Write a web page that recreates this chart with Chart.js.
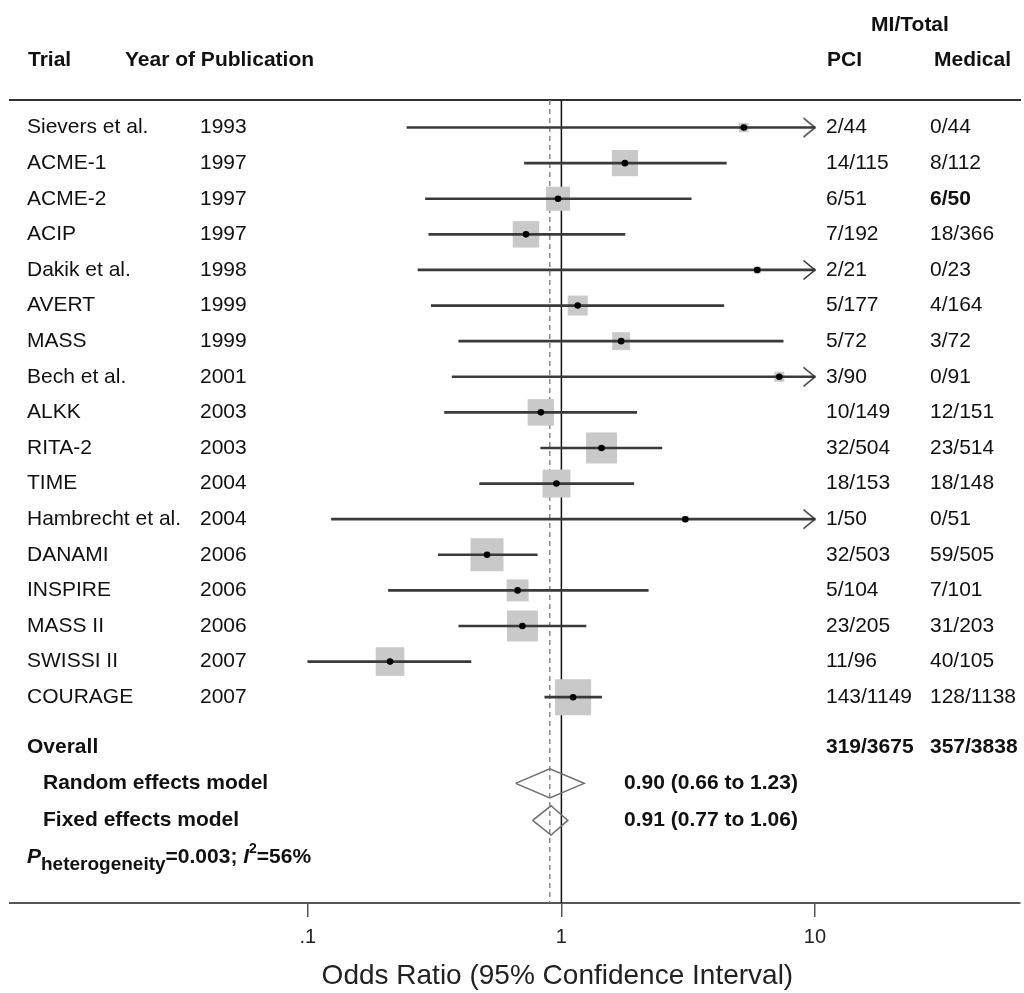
<!DOCTYPE html>
<html><head><meta charset="utf-8">
<script src="https://cdn.jsdelivr.net/npm/chart.js@4.4.0/dist/chart.umd.min.js"></script>
<style>html,body{margin:0;padding:0;background:#fff;}canvas{display:block;}</style>
</head><body>
<canvas id="c" width="1024" height="993"></canvas>
<script>
// ---------- data ----------
const trials = ['Sievers et al.','ACME-1','ACME-2','ACIP','Dakik et al.','AVERT','MASS','Bech et al.','ALKK','RITA-2','TIME','Hambrecht et al.','DANAMI','INSPIRE','MASS II','SWISSI II','COURAGE'];
const years = ['1993','1997','1997','1997','1998','1999','1999','2001','2003','2003','2004','2004','2006','2006','2006','2007','2007'];
const pciEvents = ['2/44','14/115','6/51','7/192','2/21','5/177','5/72','3/90','10/149','32/504','18/153','1/50','32/503','5/104','23/205','11/96','143/1149'];
const medicalEvents = ['0/44','8/112','6/50','18/366','0/23','4/164','3/72','0/91','12/151','23/514','18/148','0/51','59/505','7/101','31/203','40/105','128/1138'];
const oddsRatio = [5.24,1.78,0.97,0.725,5.92,1.16,1.72,7.23,0.83,1.44,0.956,3.08,0.509,0.672,0.702,0.211,1.112];
const ciLow = [0.246,0.715,0.291,0.300,0.272,0.307,0.394,0.371,0.346,0.829,0.476,0.124,0.327,0.208,0.394,0.100,0.860];
const ciHigh = [null,4.47,3.25,1.78,null,4.37,7.49,null,1.98,2.49,1.93,null,0.803,2.20,1.25,0.44,1.44]; // null = beyond axis (arrow)
const weights = [0.9,6.8,5.8,7.0,0.5,4.0,3.2,1.0,7.0,9.6,7.8,0.4,10.9,4.8,9.6,8.2,13.0];
const summaryLabels = ['Random effects model','Fixed effects model'];
const summaryOR = [0.90, 0.91];
const summaryLow = [0.66, 0.77];
const summaryHigh = [1.23, 1.06];
const summaryText = ['0.90 (0.66 to 1.23)','0.91 (0.77 to 1.06)'];
const overallPCI = '319/3675';
const overallMedical = '357/3838';
const heterogeneityP = '0.003';
const heterogeneityI2 = '56%';
const tickValues = [0.1, 1, 10];
const tickLabels = ['.1','1','10'];
const axisClip = 10;

// ---------- layout ----------
const FONT = "'Liberation Sans', Arial, Helvetica, sans-serif";
const rowPos = trials.map((t, i) => i + 1);
const overallRow = 18.41, summaryRows = [19.42, 20.46], hetRow = 21.5;
const Y_MIN = 0.227, Y_MAX = 22.78;
const X_MIN = Math.pow(10, -2.1743), X_MAX = Math.pow(10, 1.8084);
const DIAMOND_HALF = 0.41;
const BOX_SCALE = 10 / Math.SQRT2;

function makeArrow() {
  const c = document.createElement('canvas');
  c.width = 30; c.height = 24;
  const g = c.getContext('2d');
  g.strokeStyle = '#333'; g.lineWidth = 1.6;
  g.beginPath(); g.moveTo(15 - 11.5, 12 - 9.5); g.lineTo(15, 12); g.lineTo(15 - 11.5, 12 + 9.5); g.stroke();
  return c;
}
const arrowImg = makeArrow();

function txt(ctx, s, x, y, o = {}) {
  const size = o.size || 21, weight = o.weight || 'normal', style = o.style || 'normal';
  ctx.font = `${style} ${weight} ${size}px ${FONT}`;
  ctx.textAlign = o.align || 'left';
  ctx.textBaseline = 'middle';
  ctx.fillStyle = o.color || '#111';
  ctx.fillText(s, x, y);
  return ctx.measureText(s).width;
}

const textPlugin = {
  id: 'forestText',
  afterDraw(chart) {
    const ctx = chart.ctx, ys = chart.scales.y, xs = chart.scales.x;
    ctx.save();
    // headers
    txt(ctx, 'Trial', 28, 60, {weight: 'bold'});
    txt(ctx, 'Year of Publication', 125, 60, {weight: 'bold'});
    txt(ctx, 'MI/Total', 910, 25, {weight: 'bold', align: 'center'});
    txt(ctx, 'PCI', 827, 60, {weight: 'bold'});
    txt(ctx, 'Medical', 934, 60, {weight: 'bold'});
    // rows
    trials.forEach((t, i) => {
      const py = ys.getPixelForValue(rowPos[i]);
      txt(ctx, t, 27, py);
      txt(ctx, years[i], 200, py);
      txt(ctx, pciEvents[i], 826, py);
      txt(ctx, medicalEvents[i], 930, py, {weight: i === 2 ? 'bold' : 'normal'});
    });
    // overall
    const po = ys.getPixelForValue(overallRow);
    txt(ctx, 'Overall', 27, po, {weight: 'bold'});
    txt(ctx, overallPCI, 826, po, {weight: 'bold'});
    txt(ctx, overallMedical, 930, po, {weight: 'bold'});
    summaryLabels.forEach((s, j) => {
      const py = ys.getPixelForValue(summaryRows[j]);
      txt(ctx, s, 43, py, {weight: 'bold'});
      txt(ctx, summaryText[j], 624, py, {weight: 'bold'});
    });
    // heterogeneity
    const ph = ys.getPixelForValue(hetRow);
    let x = 27;
    x += txt(ctx, 'P', x, ph, {weight: 'bold', style: 'italic'});
    x += txt(ctx, 'heterogeneity', x, ph + 7, {weight: 'bold', size: 19});
    x += txt(ctx, '=' + heterogeneityP + '; ', x, ph, {weight: 'bold'});
    x += txt(ctx, 'I', x, ph, {weight: 'bold', style: 'italic'});
    x += txt(ctx, '2', x, ph - 8, {weight: 'bold', size: 14});
    txt(ctx, '=' + heterogeneityI2, x, ph, {weight: 'bold'});
    // axis title
    txt(ctx, 'Odds Ratio (95% Confidence Interval)', xs.getPixelForValue(1) - 4, 976, {size: 28, align: 'center', color: '#222'});
    ctx.restore();
  }
};

const ciData = trials.map((t, i) => ({x: [ciLow[i], ciHigh[i] === null ? axisClip : ciHigh[i]], y: rowPos[i]}));
const boxData = trials.map((t, i) => ({x: oddsRatio[i], y: rowPos[i]}));
const arrowData = trials.map((t, i) => ciHigh[i] === null ? {x: axisClip, y: rowPos[i]} : null).filter(p => p);
const diamondSets = summaryLabels.map((s, j) => ({
  type: 'scatter', showLine: true, order: 4,
  data: [
    {x: summaryLow[j], y: summaryRows[j]},
    {x: summaryOR[j], y: summaryRows[j] - DIAMOND_HALF},
    {x: summaryHigh[j], y: summaryRows[j]},
    {x: summaryOR[j], y: summaryRows[j] + DIAMOND_HALF},
    {x: summaryLow[j], y: summaryRows[j]}
  ],
  borderColor: '#6e6e6e', borderWidth: 1.5, pointRadius: 0, fill: false, tension: 0
}));

new Chart(document.getElementById('c'), {
  type: 'scatter',
  data: {
    datasets: [
      {type: 'scatter', order: 1, data: boxData, pointStyle: 'circle', pointRadius: 3.3, backgroundColor: '#000', borderWidth: 0},
      {type: 'scatter', order: 2, data: arrowData, pointStyle: arrowImg, pointRadius: 6},
      {type: 'bar', order: 3, indexAxis: 'y', data: ciData, barThickness: 2, backgroundColor: '#3a3a3a', borderWidth: 0},
      ...diamondSets,
      {type: 'scatter', order: 5, data: boxData, pointStyle: 'rect', pointRadius: weights.map(w => BOX_SCALE * Math.sqrt(w)), backgroundColor: '#c9c9c9', borderWidth: 0},
      {type: 'scatter', order: 6, showLine: true, data: [{x: 1, y: Y_MIN}, {x: 1, y: Y_MAX}], borderColor: '#111', borderWidth: 1.5, pointRadius: 0},
      {type: 'scatter', order: 7, showLine: true, data: [{x: summaryOR[0], y: Y_MIN}, {x: summaryOR[0], y: Y_MAX}], borderColor: '#777', borderWidth: 1.3, borderDash: [5, 4], pointRadius: 0}
    ]
  },
  options: {
    responsive: false, animation: false, events: [],
    layout: {autoPadding: false, padding: {left: 10, right: 4, top: 100, bottom: 0}},
    plugins: {legend: {display: false}, tooltip: {enabled: false}},
    scales: {
      x: {
        type: 'logarithmic', position: 'bottom', min: X_MIN, max: X_MAX, bounds: 'data', offset: false, beginAtZero: false,
        afterBuildTicks: s => { s.ticks = tickValues.map(v => ({value: v})); },
        afterFit: s => { s.height = 90; },
        ticks: {callback: (v, i) => tickLabels[i], font: {size: 20, family: FONT}, color: '#222', padding: 8, autoSkip: false, maxRotation: 0},
        grid: {drawOnChartArea: false, drawTicks: true, tickLength: 14, color: '#555', lineWidth: 1.5, offset: false},
        border: {display: true, color: '#555', width: 2}
      },
      x2: {
        type: 'linear', position: 'top', min: 0, max: 1, offset: false,
        afterFit: s => { s.height = 0; },
        ticks: {display: false},
        grid: {display: false, drawTicks: false},
        border: {display: true, color: '#333', width: 2}
      },
      y: {type: 'linear', reverse: true, min: Y_MIN, max: Y_MAX, display: false, offset: false, grid: {offset: false}}
    }
  },
  plugins: [textPlugin]
});
</script>
</body></html>
